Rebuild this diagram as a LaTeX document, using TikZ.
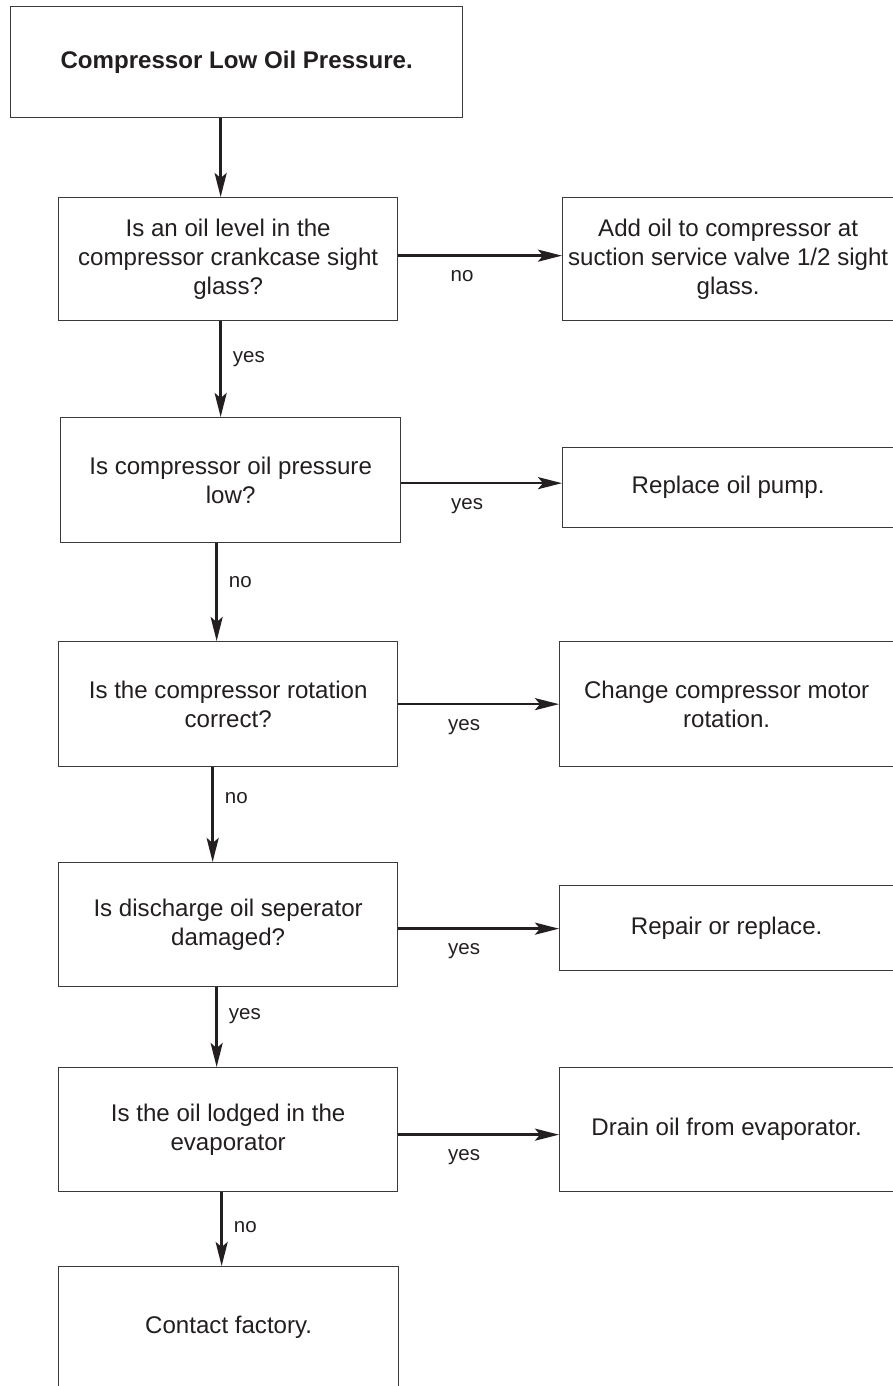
\documentclass[tikz,border=0pt]{standalone}
\usepackage{fontspec}
\setmainfont{Liberation Sans}
\usetikzlibrary{arrows.meta}
\definecolor{ink}{HTML}{231F20}
\definecolor{frame}{HTML}{3A3A3A}
\begin{document}
\begin{tikzpicture}[x=1pt,y=-1pt,
  box/.style={draw=frame, line width=1.3pt, inner sep=0pt, anchor=north west,
    align=center, text=ink, font=\fontsize{24.1}{28.8}\selectfont},
  flow/.style={draw=ink, line width=2.6pt,
    -{Stealth[length=24pt,width=12pt,inset=5pt]}},
  lbl/.style={text=ink, inner sep=0pt, font=\fontsize{20.5}{24}\selectfont}]
\useasboundingbox (0,0) rectangle (892,1386);
\fill[white] (0,0) rectangle (892,1386);

% left column: the checks
\node[box, minimum width=452pt, minimum height=111pt] (start) at (10,6)
  {\bfseries Compressor Low Oil Pressure.};
\node[box, minimum width=339pt, minimum height=123pt] (q1) at (58,197)
  {Is an oil level in the\\compressor crankcase sight\\glass?};
\node[box, minimum width=340pt, minimum height=125pt] (q2) at (60,417)
  {Is compressor oil pressure\\low?};
\node[box, minimum width=339pt, minimum height=125pt] (q3) at (58,641)
  {Is the compressor rotation\\correct?};
\node[box, minimum width=339pt, minimum height=124pt] (q4) at (58,862)
  {Is discharge oil seperator\\damaged?};
\node[box, minimum width=339pt, minimum height=124pt] (q5) at (58,1067)
  {Is the oil lodged in the\\evaporator};
\node[box, minimum width=340pt, minimum height=122pt] (fin) at (58,1266)
  {Contact factory.};

% right column: the remedies
\node[box, minimum width=331pt, minimum height=123pt] (a1) at (562,197)
  {Add oil to compressor at\\suction service valve 1/2 sight\\glass.};
\node[box, minimum width=331pt, minimum height=80pt] (a2) at (562,447)
  {Replace oil pump.};
\node[box, minimum width=334pt, minimum height=125pt] (a3) at (559,641)
  {Change compressor motor\\rotation.};
\node[box, minimum width=334pt, minimum height=85pt] (a4) at (559,885)
  {Repair or replace.};
\node[box, minimum width=334pt, minimum height=124pt] (a5) at (559,1067)
  {Drain oil from evaporator.};

% downward flow
\draw[flow] ([xshift=-16pt]start.south) coordinate (d0) -- (d0 |- q1.north);
\draw[flow] ([xshift=-7.5pt]q1.south) coordinate (d1)
  -- node[lbl, pos=0.39, right=11pt] {yes} (d1 |- q2.north);
\draw[flow] ([xshift=-14pt]q2.south) coordinate (d2)
  -- node[lbl, pos=0.40, right=11pt] {no} (d2 |- q3.north);
\draw[flow] ([xshift=-15.5pt]q3.south) coordinate (d3)
  -- node[lbl, pos=0.33, right=11pt] {no} (d3 |- q4.north);
\draw[flow] ([xshift=-11.5pt]q4.south) coordinate (d4)
  -- node[lbl, pos=0.36, right=11pt] {yes} (d4 |- q5.north);
\draw[flow] ([xshift=-6.5pt]q5.south) coordinate (d5)
  -- node[lbl, pos=0.47, right=11pt] {no} (d5 |- fin.north);

% sideways flow to the remedies
\draw[flow] ([yshift=3.5pt]q1.east) coordinate (r1)
  -- node[lbl, pos=0.39, below=14pt] {no} (r1 -| a1.west);
\draw[flow] ([yshift=-3pt]q2.east) coordinate (r2)
  -- node[lbl, pos=0.41, below=14pt] {yes} (r2 -| a2.west);
\draw[flow] (q3.east) coordinate (r3)
  -- node[lbl, pos=0.41, below=14pt] {yes} (r3 -| a3.west);
\draw[flow] ([yshift=-4pt]q4.east) coordinate (r4)
  -- node[lbl, pos=0.41, below=14pt] {yes} (r4 -| a4.west);
\draw[flow] ([yshift=-5pt]q5.east) coordinate (r5)
  -- node[lbl, pos=0.41, below=14pt] {yes} (r5 -| a5.west);
\end{tikzpicture}
\end{document}
